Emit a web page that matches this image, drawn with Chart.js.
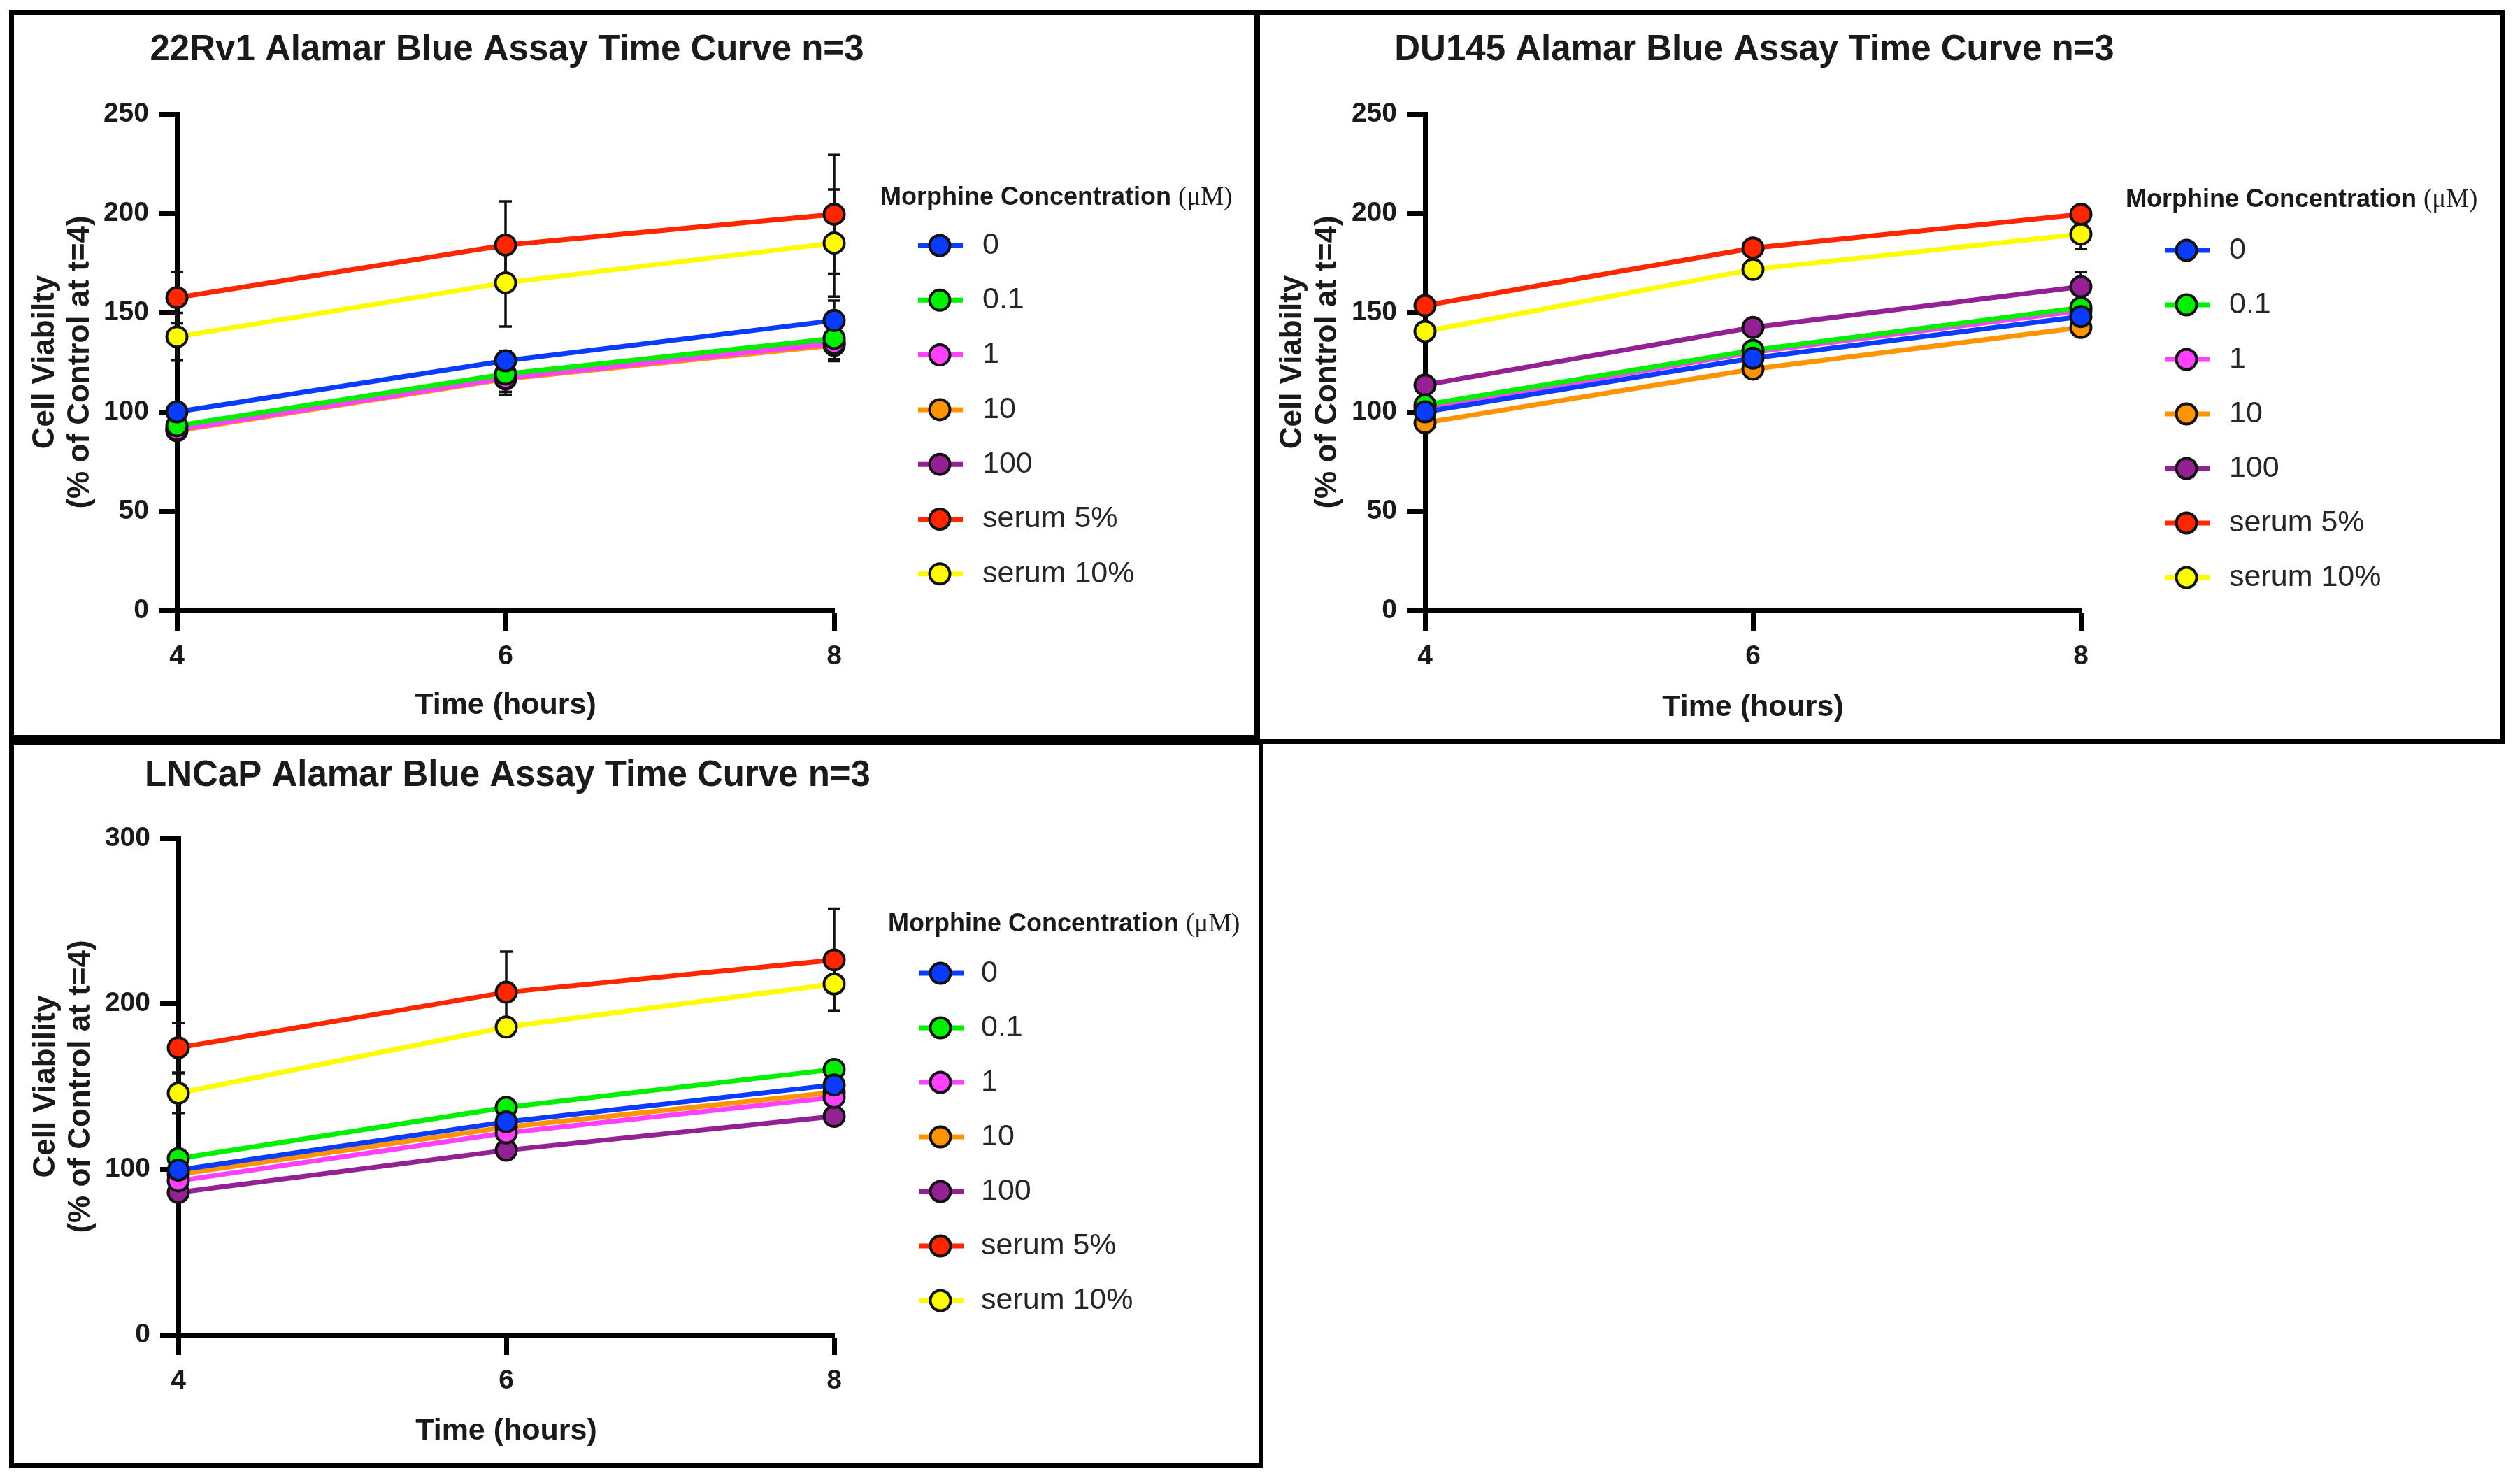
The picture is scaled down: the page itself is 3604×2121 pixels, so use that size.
<!DOCTYPE html>
<html>
<head>
<meta charset="utf-8">
<title>Alamar Blue Assay Time Curves</title>
<script src="https://cdn.jsdelivr.net/npm/chart.js@4.4.1/dist/chart.umd.min.js"></script>
<style>
  html, body { margin: 0; padding: 0; background: #fff; }
  body { width: 3604px; height: 2121px; position: relative; overflow: hidden; }
  canvas { position: absolute; }
  .panel { position: absolute; box-sizing: border-box; border: 7px solid #000; pointer-events: none; }
</style>
</head>
<body>
<canvas id="rv1"></canvas>
<canvas id="du145"></canvas>
<canvas id="lncap"></canvas>
<div class="panel" id="rv1-box"></div>
<div class="panel" id="du145-box"></div>
<div class="panel" id="lncap-box"></div>

<script>
// x values (hours) and series
const HOURS = [4, 6, 8];
const SERIES_LABELS = ["0", "0.1", "1", "10", "100", "serum 5%", "serum 10%"];
const SERIES_COLORS = ["#0a3cff", "#00f000", "#ff40ff", "#ff9300", "#942193", "#ff2600", "#fffb00"];

// 22Rv1 — mean % of control, one row per series, and SD
const RV1_MEAN = [
  [100, 125.7, 146],
  [93, 119, 137],
  [91, 117, 134.5],
  [90.5, 116.5, 133.5],
  [91.5, 117, 135],
  [157.5, 184, 199.5],
  [137.8, 165, 185],
];
const RV1_SD = [
  [4, 5, 10],
  [4, 6, 8],
  [4, 7, 8],
  [4, 8, 8],
  [4, 7, 9],
  [13, 22, 30],
  [12, 22, 27],
];

// DU145
const DU145_MEAN = [
  [100, 127, 148],
  [103.5, 131, 152.5],
  [102, 130, 151],
  [94.5, 121.5, 142.5],
  [113.5, 142.5, 163],
  [153.5, 182.5, 199.5],
  [140.5, 171.7, 189.5],
];
const DU145_SD = [
  [3, 3, 4],
  [3, 3, 4],
  [3, 3, 3],
  [3, 3, 4],
  [3, 4, 7.5],
  [3, 3, 4.5],
  [3, 3, 7.5],
];

// LNCaP
const LNCAP_MEAN = [
  [99.5, 128.7, 151],
  [106.5, 137.4, 160.4],
  [93, 122, 143.5],
  [97, 125.5, 146.5],
  [86, 111.5, 132],
  [173.5, 207, 226.5],
  [146, 186, 212],
];
const LNCAP_SD = [
  [3, 3, 4],
  [3, 3, 3],
  [3, 3, 3],
  [3, 3, 3],
  [3, 3, 3],
  [15, 24.5, 31],
  [12, 4, 16],
];

const Y_TICKS_A = { max: 250, step: 50 };
const Y_TICKS_B = { max: 300, step: 100 };

const SANS = "'Liberation Sans', Arial, Helvetica, sans-serif";
Chart.defaults.font.family = SANS;
Chart.defaults.color = "#1a1a1a";

// black SD whiskers, drawn under lines and markers
const errorBars = {
  id: "errorBars",
  beforeDatasetsDraw(chart) {
    const ctx = chart.ctx;
    const ys = chart.scales.y;
    ctx.save();
    ctx.strokeStyle = "#111";
    ctx.lineWidth = 3.5;
    chart.data.datasets.forEach((ds, i) => {
      const meta = chart.getDatasetMeta(i);
      meta.data.forEach((pt, j) => {
        const v = ds.data[j].y, e = ds.sd[j];
        const top = ys.getPixelForValue(v + e);
        const bot = ys.getPixelForValue(v - e);
        ctx.beginPath();
        ctx.moveTo(pt.x, top); ctx.lineTo(pt.x, bot);
        ctx.moveTo(pt.x - 9, top); ctx.lineTo(pt.x + 9, top);
        ctx.moveTo(pt.x - 9, bot); ctx.lineTo(pt.x + 9, bot);
        ctx.stroke();
      });
    });
    ctx.restore();
  },
};

// panel title, centred over the plot area (wider than the plot, so drawn here)
const panelTitle = {
  id: "panelTitle",
  afterDraw(chart, args, o) {
    const ctx = chart.ctx;
    const a = chart.chartArea;
    ctx.save();
    ctx.font = "bold 51px " + SANS;
    ctx.fillStyle = "#1a1a1a";
    ctx.textAlign = "center";
    ctx.textBaseline = "middle";
    ctx.fillText(o.text, (a.left + a.right) / 2 + 2, o.y);
    ctx.restore();
  },
};

// Prism-style legend: line through a bordered circle, to the right of the plot
const prismLegend = {
  id: "prismLegend",
  afterDraw(chart, args, o) {
    const ctx = chart.ctx;
    ctx.save();
    ctx.textBaseline = "middle";
    ctx.fillStyle = "#1a1a1a";
    ctx.font = "bold 36px " + SANS;
    const head = "Morphine Concentration ";
    ctx.fillText(head, o.titleX, o.titleY);
    const w = ctx.measureText(head).width;
    ctx.font = "37px 'Liberation Serif', 'Times New Roman', serif";
    ctx.fillText("(\u03bcM)", o.titleX + w, o.titleY);

    chart.data.datasets.forEach((ds, i) => {
      const y = o.rowY + i * o.rowStep;
      ctx.strokeStyle = ds.borderColor;
      ctx.lineWidth = 7;
      ctx.beginPath();
      ctx.moveTo(o.markerX - 31, y);
      ctx.lineTo(o.markerX + 33, y);
      ctx.stroke();
      ctx.beginPath();
      ctx.arc(o.markerX, y, 14.5, 0, Math.PI * 2);
      ctx.fillStyle = ds.pointBackgroundColor;
      ctx.fill();
      ctx.lineWidth = 4;
      ctx.strokeStyle = "#111";
      ctx.stroke();
      ctx.fillStyle = "#262626";
      ctx.font = "43px " + SANS;
      ctx.fillText(ds.label, o.textX, y);
    });
    ctx.restore();
  },
};

function makeChart(p) {
  const [px, py, pw, ph] = p.rect;
  const box = document.getElementById(p.id + "-box");
  box.style.left = px + "px"; box.style.top = py + "px";
  box.style.width = pw + "px"; box.style.height = ph + "px";

  const canvas = document.getElementById(p.id);
  canvas.width = pw; canvas.height = ph;
  canvas.style.left = px + "px"; canvas.style.top = py + "px";
  canvas.style.width = pw + "px"; canvas.style.height = ph + "px";

  // plot area relative to the canvas
  const left = p.plot[0] - px, top = p.plot[1] - py;
  const right = p.plot[2] - px, bottom = p.plot[3] - py;
  const X_AXIS_H = 180;

  const yTitleLH = 50;
  const yTitlePad = p.yTitleX - px - yTitleLH / 2;

  const xTitleLH = 43 * 1.2;
  const xTitlePad = (bottom + X_AXIS_H) - (p.xTitleY - py) - xTitleLH / 2;

  const datasets = SERIES_LABELS.map((label, i) => ({
    label,
    data: HOURS.map((h, j) => ({ x: h, y: p.mean[i][j] })),
    sd: p.sd[i],
    borderColor: SERIES_COLORS[i],
    backgroundColor: SERIES_COLORS[i],
    pointBackgroundColor: SERIES_COLORS[i],
    pointBorderColor: "#111",
    pointBorderWidth: 4,
    pointRadius: 14.5,
    borderWidth: 7,
    tension: 0,
    clip: false,
  }));

  new Chart(canvas, {
    type: "line",
    data: { datasets },
    plugins: [errorBars, panelTitle, prismLegend],
    options: {
      responsive: false,
      animation: false,
      devicePixelRatio: 1,
      layout: {
        padding: { left: 0, top: top, right: pw - right, bottom: ph - bottom - X_AXIS_H },
      },
      plugins: {
        legend: { display: false },
        tooltip: { enabled: false },
        title: { display: false },
        panelTitle: { text: p.title, y: p.titleY - py },
        prismLegend: p.legend,
      },
      scales: {
        x: {
          type: "linear",
          min: 4,
          max: 8,
          afterFit: (s) => { s.height = X_AXIS_H; },
          ticks: {
            stepSize: 2,
            maxRotation: 0,
            padding: 14,
            color: "#1a1a1a",
            font: { size: 39, weight: "bold" },
          },
          grid: {
            drawOnChartArea: false,
            drawTicks: true,
            tickLength: 29,
            tickWidth: 7,
            color: "#000",
          },
          border: { display: true, width: 7, color: "#000" },
          title: {
            display: true,
            text: "Time (hours)",
            color: "#1a1a1a",
            font: { size: 43, weight: "bold", lineHeight: 1.2 },
            padding: { top: 0, bottom: xTitlePad },
          },
        },
        y: {
          min: 0,
          max: p.yTicks.max,
          afterFit: (s) => { s.width = left; },
          ticks: {
            stepSize: p.yTicks.step,
            padding: 14,
            color: "#1a1a1a",
            font: { size: 39, weight: "bold" },
          },
          grid: {
            drawOnChartArea: false,
            drawTicks: true,
            tickLength: 26,
            tickWidth: 7,
            color: "#000",
          },
          border: { display: true, width: 7, color: "#000" },
          title: {
            display: true,
            text: [p.yTitle, "(% of Control at t=4)"],
            color: "#1a1a1a",
            font: { size: 44, weight: "bold", lineHeight: yTitleLH / 44 },
            padding: { top: yTitlePad, bottom: 0 },
          },
        },
      },
    },
  });
}

const PANELS = [
  {
    id: "rv1",
    title: "22Rv1 Alamar Blue Assay Time Curve n=3",
    yTitle: "Cell Viabilty",
    rect: [13, 15, 1789, 1043],
    plot: [253, 163, 1193, 873],
    titleY: 72, yTitleX: 65, xTitleY: 1009,
    yTicks: Y_TICKS_A,
    mean: RV1_MEAN, sd: RV1_SD,
    legend: { titleX: 1246, titleY: 268, markerX: 1331, textX: 1392, rowY: 336, rowStep: 78.3 },
  },
  {
    id: "du145",
    title: "DU145 Alamar Blue Assay Time Curve n=3",
    yTitle: "Cell Viabilty",
    rect: [1793, 15, 1789, 1049],
    plot: [2038, 163, 2976, 873],
    titleY: 72, yTitleX: 1849, xTitleY: 1012,
    yTicks: Y_TICKS_A,
    mean: DU145_MEAN, sd: DU145_SD,
    legend: { titleX: 1247, titleY: 271, markerX: 1334, textX: 1395, rowY: 343, rowStep: 78 },
  },
  {
    id: "lncap",
    title: "LNCaP Alamar Blue Assay Time Curve n=3",
    yTitle: "Cell Viability",
    rect: [13, 1058, 1794, 1042],
    plot: [255, 1199, 1193, 1909],
    titleY: 1110, yTitleX: 66, xTitleY: 2047,
    yTicks: Y_TICKS_B,
    mean: LNCAP_MEAN, sd: LNCAP_SD,
    legend: { titleX: 1257, titleY: 264, markerX: 1332, textX: 1390, rowY: 334, rowStep: 78 },
  },
];

PANELS.forEach(makeChart);
</script>
</body>
</html>
